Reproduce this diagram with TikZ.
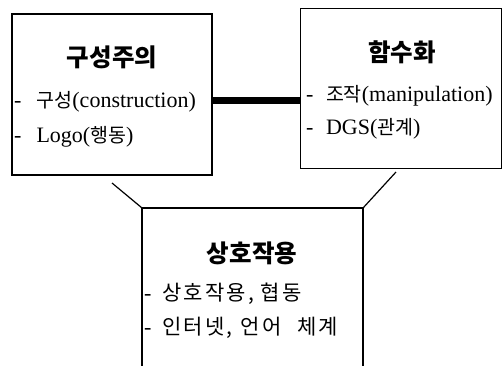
\documentclass[tikz,border=0pt]{standalone}
\usepackage{fontspec}
\setmainfont{Liberation Serif}
\newfontfamily\kr{Noto Sans CJK KR}
\newfontfamily\krsp{Noto Sans CJK KR}[LetterSpace=10]
\newcommand\K[1]{{\kr\fontsize{19.5}{19.5}\selectfont #1}}
\newcommand\KB[1]{{\krsp\fontsize{21}{21}\selectfont #1}}
\newcommand\KT[1]{{\kr\bfseries\fontsize{24.5}{24.5}\selectfont #1}}
\begin{document}
\begin{tikzpicture}[x=1pt,y=-1pt,
  box/.style={draw, line width=1.6pt, rectangle, inner sep=0pt},
  ttl/.style={inner sep=0pt, anchor=center},
  itm/.style={inner sep=0pt, anchor=base west, font=\fontsize{22}{22}\selectfont},
  conn/.style={line width=1.2pt}]
\useasboundingbox (0,0) rectangle (503,365);
\node[box, minimum width=200pt, minimum height=161pt] (L) at (112,94.5) {};
\node[box, minimum width=201pt, minimum height=160pt] (R) at (401,88.5) {};
\node[inner sep=0pt, minimum width=221pt, minimum height=160pt] (B) at (252.5,288) {};
\draw[line width=1.6pt] (B.south west) -- (B.north west) -- (B.north east) -- (B.south east);
% titles
\node[ttl] (Lt) at (112,57) {\KT{구성주의}};
\node[ttl] (Rt) at (402,52) {\KT{함수화}};
\node[ttl] (Bt) at (252,253) {\KT{상호작용}};
% items
\node[itm] (L1) at (14,107) {-\hspace{15pt}\K{구성}(construction)};
\node[itm] (L2) at (14,142) {-\hspace{15pt}Logo(\K{행동})};
\node[itm] (R1) at (306,101) {-\hspace{12.5pt}\K{조작}(manipulation)};
\node[itm] (R2) at (306,134) {-\hspace{12.5pt}DGS(\K{관계})};
\node[itm] (B1) at (144,300) {-\hspace{11pt}\KB{상호작용, 협동}};
\node[itm] (B2) at (144,334) {-\hspace{11pt}\KB{인터넷,\hspace{8pt}언어\hspace{16pt}체계}};
% connectors
\coordinate (bar) at (0,100);
\draw[line width=7pt] (L.east |- bar) -- (R.west |- bar);
\coordinate (dl) at (112,183);
\coordinate (dr) at (396,172);
\draw[conn] (dl) -- (B.north west);
\draw[conn] (dr) -- (B.north east);
\end{tikzpicture}
\end{document}
